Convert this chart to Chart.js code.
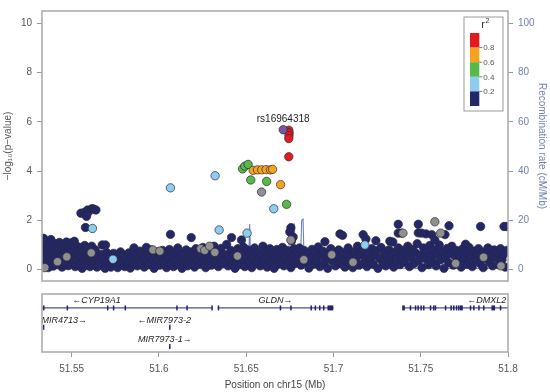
<!DOCTYPE html>
<html lang="en">
<head>
<meta charset="UTF-8">
<title>Regional association plot chr15</title>
<script src="https://cdn.jsdelivr.net/npm/chart.js"></script>
<style>
  body { margin: 0; background: #fff; }
  #wrap { position: relative; width: 550px; height: 392px; }
  #assoc { position: absolute; left: 0; top: 0; }
  #genes { position: absolute; left: 0; top: 290px; }
</style>
</head>
<body>
<div id="wrap">
  <canvas id="assoc" width="550" height="292"></canvas>
  <canvas id="genes" width="550" height="102"></canvas>
</div>
<script>
  // axis ranges and ticks
  const xMin = 51.533, xMax = 51.8;
  const xTicks = [51.55, 51.6, 51.65, 51.7, 51.75, 51.8];
  const pTicks = [0, 2, 4, 6, 8, 10];
  const recTicks = [0, 20, 40, 60, 80, 100];

  // SNPs: [position Mb, -log10 p]
  const leadName = 'rs16964318';
  const leadSnp = [[51.6712, 5.68]];
  const redSnps = [[51.6744, 5.66], [51.6746, 5.55], [51.6745, 5.44], [51.6744, 5.32], [51.6744, 4.58]];
  const orangeSnps = [[51.6540, 4.03], [51.6565, 4.05], [51.6589, 4.05], [51.6614, 4.06], [51.6639, 4.05], [51.6651, 4.07], [51.6697, 3.45]];
  const greenSnps = [[51.6479, 4.09], [51.6492, 4.20], [51.6511, 4.27], [51.6526, 3.64], [51.6617, 3.58], [51.6731, 2.65]];
  const blueSnps = [[51.5619, 1.67], [51.5737, 0.42], [51.6066, 3.32], [51.6322, 3.81], [51.6345, 1.61], [51.6505, 1.48], [51.6658, 2.47], [51.7180, 1.00]];
  const graySnps = [[51.5346, 0.08], [51.5419, 0.32], [51.5472, 0.52], [51.5612, 0.68], [51.5966, 0.80], [51.6005, 0.75],
    [51.6240, 0.85], [51.6262, 0.78], [51.6290, 0.95], [51.6320, 0.70], [51.6450, 0.55], [51.6588, 3.15], [51.6756, 1.20],
    [51.6830, 0.40], [51.6990, 0.60], [51.7112, 0.30], [51.7398, 1.48], [51.7581, 1.94], [51.7614, 1.48], [51.7700, 0.25],
    [51.7860, 0.50], [51.7960, 0.15]];
  const navySnps = [
    [51.5333,0.62],[51.5338,0.18],[51.5342,0.88],[51.5347,0.41],[51.5352,1.02],[51.5357,0.27],[51.5361,0.74],[51.5366,0.08],[51.5371,0.95],[51.5376,0.52],
    [51.5381,1.22],[51.5385,0.33],[51.5390,0.80],[51.5395,0.14],[51.5400,0.66],[51.5405,1.05],[51.5410,0.44],[51.5415,0.90],[51.5420,0.22],[51.5425,0.71],
    [51.5430,1.10],[51.5435,0.38],[51.5440,0.84],[51.5445,0.10],[51.5450,0.58],[51.5455,0.98],[51.5460,0.30],[51.5465,0.76],[51.5470,1.12],[51.5475,0.47],
    [51.5480,0.16],[51.5485,0.92],[51.5490,0.63],[51.5495,1.08],[51.5500,0.25],[51.5505,0.79],[51.5510,0.42],[51.5515,1.15],[51.5520,0.12],[51.5525,0.68],
    [51.5530,0.95],[51.5535,0.35],[51.5540,0.82],[51.5545,0.20],[51.5550,0.55],[51.5555,0.90],[51.5560,0.05],[51.5565,0.72],[51.5570,0.40],[51.5575,0.98],
    [51.5580,0.18],[51.5585,0.62],[51.5590,0.85],[51.5595,0.30],[51.5600,0.70],[51.5605,0.12],[51.5610,0.52],[51.5615,0.95],[51.5620,0.36],[51.5625,0.66],
    [51.5630,0.22],[51.5635,0.80],[51.5640,0.48],[51.5645,0.10],[51.5650,0.58],
    [51.5660,0.35],[51.5668,0.62],[51.5676,0.15],[51.5684,0.48],[51.5692,0.05],[51.5700,0.70],[51.5708,0.28],[51.5716,0.55],[51.5724,0.10],[51.5732,0.42],
    [51.5740,0.66],[51.5748,0.20],[51.5756,0.50],[51.5764,0.08],[51.5772,0.38],[51.5780,0.72],[51.5788,0.25],[51.5796,0.58],[51.5804,0.12],[51.5812,0.45],
    [51.5820,0.30],[51.5828,0.68],[51.5836,0.06],[51.5844,0.52],[51.5852,0.22],[51.5860,0.62],[51.5868,0.35],[51.5876,0.15],[51.5884,0.48],[51.5892,0.75],
    [51.5900,0.28],[51.5908,0.55],[51.5916,0.10],[51.5924,0.42],[51.5932,0.66],[51.5940,0.20],[51.5948,0.50],[51.5956,0.80],[51.5964,0.32],[51.5972,0.05],
    [51.5980,0.60],[51.5988,0.38],[51.5996,0.72],
    [51.6004,0.18],[51.6012,0.50],[51.6020,0.78],[51.6028,0.30],[51.6036,0.62],[51.6044,0.08],[51.6052,0.45],[51.6060,0.82],[51.6068,0.25],[51.6076,0.58],
    [51.6084,0.12],[51.6092,0.70],[51.6100,0.38],[51.6108,0.88],[51.6116,0.20],[51.6124,0.55],[51.6132,0.05],[51.6140,0.66],[51.6148,0.32],[51.6156,0.80],
    [51.6164,0.15],[51.6172,0.48],[51.6180,0.72],[51.6188,0.28],[51.6196,0.60],[51.6204,0.10],[51.6212,0.85],[51.6220,0.40],[51.6228,0.65],[51.6236,0.22],
    [51.6244,0.52],[51.6252,0.90],[51.6260,0.35],[51.6268,0.08],[51.6276,0.70],[51.6284,0.45],[51.6292,0.82],[51.6300,0.18],[51.6308,0.58],[51.6316,0.95],
    [51.6324,0.30],[51.6332,0.68],[51.6340,0.12],[51.6348,0.50],[51.6356,0.86],[51.6364,0.25],[51.6372,0.62],[51.6380,0.40],[51.6388,1.02],[51.6396,0.15],
    [51.6404,0.55],[51.6412,0.78],[51.6420,0.28],[51.6428,0.62],[51.6436,0.05],[51.6444,0.45],[51.6452,0.85],[51.6460,0.20],[51.6468,0.68],[51.6476,0.38],
    [51.6484,0.92],[51.6492,0.12],[51.6500,0.58],[51.6508,0.80],[51.6516,0.30],[51.6524,0.65],[51.6532,0.08],[51.6540,0.48],[51.6548,0.88],[51.6556,0.25],
    [51.6564,0.70],[51.6572,0.42],[51.6580,0.15],[51.6588,0.62],[51.6596,0.95],[51.6604,0.35],[51.6612,0.75],[51.6620,0.10],[51.6628,0.52],[51.6636,0.85],
    [51.6644,0.28],[51.6652,0.60],[51.6660,0.05],[51.6668,0.45],[51.6676,0.82],[51.6684,0.22],[51.6692,0.68],[51.6700,0.38],[51.6708,0.90],[51.6716,0.15],
    [51.6724,0.55],[51.6732,0.78],[51.6740,0.32],[51.6748,0.62],[51.6756,0.08],[51.6764,0.48],[51.6772,0.85],[51.6780,0.25],[51.6788,0.70],[51.6796,0.40],
    [51.6805,0.88],[51.6814,0.18],[51.6823,0.55],[51.6832,0.78],[51.6841,0.30],[51.6850,0.62],[51.6859,0.06],[51.6868,0.45],[51.6877,0.82],[51.6886,0.22],
    [51.6895,0.68],[51.6904,0.38],[51.6913,0.92],[51.6922,0.12],[51.6931,0.58],[51.6940,0.75],[51.6949,0.28],[51.6958,0.50],[51.6967,0.05],[51.6976,0.65],
    [51.6985,0.85],[51.6994,0.35],[51.7003,0.60],[51.7012,0.15],[51.7021,0.48],[51.7030,0.80],[51.7039,0.25],[51.7048,0.70],[51.7057,0.42],[51.7066,0.10],
    [51.7075,0.62],[51.7084,0.88],[51.7093,0.32],[51.7102,0.55],[51.7111,0.08],[51.7120,0.72],[51.7129,0.40],[51.7138,0.95],[51.7147,0.18],[51.7156,0.60],
    [51.7165,0.82],[51.7174,0.28],[51.7183,0.50],[51.7192,0.12],[51.7201,0.68],[51.7210,0.38],[51.7219,0.85],[51.7228,0.22],[51.7237,0.58],[51.7246,0.76],
    [51.7255,0.05],[51.7264,0.45],[51.7273,0.90],[51.7282,0.30],[51.7291,0.65],[51.7300,0.15],[51.7309,0.52],[51.7318,0.80],[51.7327,0.35],[51.7336,0.62],
    [51.7345,0.10],[51.7354,0.72],[51.7363,0.42],[51.7372,0.88],[51.7381,0.20],[51.7390,0.56],
    [51.7399,0.78],[51.7408,0.30],[51.7417,0.62],[51.7426,0.95],[51.7435,0.12],[51.7444,0.48],[51.7453,0.82],[51.7462,0.25],[51.7471,0.68],[51.7480,1.05],
    [51.7489,0.38],[51.7498,0.58],[51.7507,0.08],[51.7516,0.88],[51.7525,0.45],[51.7534,0.70],[51.7543,0.20],[51.7552,0.98],[51.7561,0.55],[51.7570,0.32],
    [51.7579,0.80],[51.7588,0.15],[51.7597,0.62],[51.7606,1.00],[51.7615,0.40],[51.7624,0.72],[51.7633,0.05],[51.7642,0.50],[51.7651,0.86],[51.7660,0.28],
    [51.7669,0.65],[51.7678,0.95],[51.7687,0.18],[51.7696,0.55],[51.7705,0.78],[51.7714,0.35],[51.7723,0.60],[51.7732,0.10],[51.7741,0.85],[51.7750,0.42],
    [51.7759,0.68],[51.7768,0.22],[51.7777,0.90],[51.7786,0.50],[51.7795,0.12],[51.7804,0.75],[51.7813,0.38],[51.7822,0.62],[51.7831,0.85],[51.7840,0.25],
    [51.7849,0.55],[51.7858,0.08],[51.7867,0.72],[51.7876,0.45],[51.7885,0.88],[51.7894,0.30],[51.7903,0.60],[51.7912,0.15],[51.7921,0.80],[51.7930,0.48],
    [51.7939,0.70],[51.7948,0.20],[51.7957,0.85],[51.7966,0.40],[51.7975,0.62],[51.7984,0.10],[51.7993,0.78],
    // points standing above the band
    [51.5339,1.27],[51.5553,2.29],[51.5572,2.32],[51.5585,2.16],[51.5591,2.42],[51.5594,2.32],[51.5616,2.47],[51.5625,2.46],[51.5639,2.42],
    [51.5579,1.71],[51.5675,1.00],[51.5694,1.00],[51.5857,0.88],[51.5928,0.90],[51.6066,1.43],[51.6185,1.30],[51.6416,1.30],[51.6473,1.20],
    [51.6756,1.70],[51.6750,1.53],[51.6769,1.32],[51.6760,1.18],[51.6951,1.13],[51.7037,1.45],[51.7052,1.39],[51.7170,1.42],[51.7186,1.24],[51.7243,1.17],
    [51.7323,1.15],[51.7340,1.12],[51.7371,1.84],[51.7371,1.48],[51.7390,1.48],[51.7486,1.84],[51.7486,1.49],[51.7505,1.48],[51.7530,1.45],
    [51.7563,1.42],[51.7581,1.20],[51.7639,1.42],[51.7662,1.78],[51.7757,1.03],[51.7843,1.75],[51.7977,1.75],[51.7991,1.75]
  ];

  // recombination rate (cM/Mb)
  const recPos  = [51.533, 51.58, 51.62, 51.650, 51.6515, 51.652, 51.6525, 51.653, 51.6742, 51.6749, 51.6776, 51.6782, 51.681, 51.6818, 51.6826, 51.6832, 51.685, 51.75, 51.8];
  const recRate = [0.4,    0.5,   0.6,   0.8,    6,       18.5,   5,       0.8,    1,       18.5,    18.5,    1,       1.5,    20,      20.5,    2,       0.8,    0.5,   0.5];

  // LD legend
  const ldColors = ['#e41a1c', '#f7a21b', '#58b848', '#8ccdf0', '#232668'];
  const ldBreaks = ['0.8', '0.6', '0.4', '0.2'];
  const grayColor = '#909090';
  const leadColor = '#7a55a0';

  // genes (Mb); strand 1 = forward, -1 = reverse
  const genes = [
    { name: 'CYP19A1', start: 51.500, end: 51.6308, strand: -1, row: 0, labelAt: 51.5642,
      exons: [[51.5336,51.5342],[51.5471,51.5475],[51.5702,51.5705],[51.5736,51.5739],[51.5803,51.5806],[51.6099,51.6102],[51.6157,51.6160],[51.6300,51.6304]] },
    { name: 'GLDN', start: 51.6337, end: 51.7000, strand: 1, row: 0, labelAt: 51.6668,
      exons: [[51.6337,51.6341],[51.6692,51.6695],[51.6752,51.6756],[51.6868,51.6871],[51.6892,51.6895],[51.6917,51.6920],[51.6940,51.6943],[51.6966,51.6999]] },
    { name: 'DMXL2', start: 51.7394, end: 51.920, strand: -1, row: 0, labelAt: 51.7878,
      exons: [[51.7394,51.7409],[51.7437,51.7440],[51.7466,51.7469],[51.7481,51.7484],[51.7498,51.7501],[51.7513,51.7516],[51.7552,51.7555],
              [51.7570,51.7576],[51.7580,51.7583],[51.7638,51.7641],[51.7670,51.7673],[51.7685,51.7688],[51.7701,51.7704],[51.7714,51.7717],
              [51.7724,51.7741],[51.7781,51.7784],[51.7800,51.7803],[51.7829,51.7832],[51.7857,51.7860],[51.7905,51.7926],[51.7953,51.7956]] },
    { name: 'MIR4713', start: 51.5335, end: 51.5337, strand: 1, row: 1, labelAt: 51.5457, exons: [[51.5335,51.5337]] },
    { name: 'MIR7973-2', start: 51.6058, end: 51.6060, strand: -1, row: 1, labelAt: 51.6030, exons: [[51.6058,51.6060]] },
    { name: 'MIR7973-1', start: 51.6058, end: 51.6060, strand: 1, row: 2, labelAt: 51.6034, exons: [[51.6058,51.6060]] }
  ];

  Chart.defaults.font.family = "'Liberation Sans', Arial, sans-serif";
  Chart.defaults.font.size = 10;
  Chart.defaults.color = '#555';

  const toXY = arr => arr.map(([x, y]) => ({ x: x, y: y }));
  const setTicks = list => scale => { scale.ticks = list.map(v => ({ value: v })); };
  const geneColor = '#1f2370';

  function snpSet(label, arr, color) {
    return {
      type: 'scatter', label: label, data: toXY(arr), yAxisID: 'y',
      backgroundColor: color, borderColor: '#2a2a3a', borderWidth: 0.7, pointRadius: 4.2
    };
  }

  const framePlugin = {
    id: 'frame',
    afterDraw(chart) {
      const a = chart.chartArea, c = chart.ctx;
      c.save();
      c.strokeStyle = '#a8a8a8';
      c.lineWidth = 1.5;
      c.strokeRect(a.left, a.top, a.right - a.left, a.bottom - a.top);
      c.restore();
    }
  };

  const annotPlugin = {
    id: 'annot',
    afterDraw(chart) {
      const c = chart.ctx, a = chart.chartArea;
      // lead SNP name
      const p = chart.getDatasetMeta(0).data[0];
      c.save();
      c.font = "10px 'Liberation Sans', Arial";
      c.fillStyle = '#222';
      c.textAlign = 'center';
      c.textBaseline = 'middle';
      c.fillText(leadName, p.x, p.y - 10);

      // r2 legend
      const bx = a.right - 44, by = a.top + 6, bw = 39, bh = 94;
      c.fillStyle = '#fff';
      c.fillRect(bx, by, bw, bh);
      c.strokeStyle = '#999';
      c.lineWidth = 1;
      c.strokeRect(bx, by, bw, bh);
      c.fillStyle = '#333';
      c.font = "11px 'Liberation Sans', Arial";
      c.fillText('r', bx + 19, by + 8);
      c.font = "7px 'Liberation Sans', Arial";
      c.fillText('2', bx + 23.5, by + 4.5);
      const sx = bx + 6, sw = 9.3, sy = by + 16, sh = 14.6;
      ldColors.forEach((col, i) => {
        c.fillStyle = col;
        c.fillRect(sx, sy + i * sh, sw, sh);
      });
      c.font = "8px 'Liberation Sans', Arial";
      c.textAlign = 'left';
      c.fillStyle = '#555';
      c.strokeStyle = '#777';
      ldBreaks.forEach((t, i) => {
        const y = sy + (i + 1) * sh;
        c.beginPath();
        c.moveTo(sx + sw, y);
        c.lineTo(sx + sw + 3, y);
        c.stroke();
        c.fillText(t, sx + sw + 4, y + 0.5);
      });
      c.restore();
    }
  };

  new Chart(document.getElementById('assoc'), {
    data: {
      datasets: [
        snpSet('lead', leadSnp, leadColor),
        snpSet('r2 > 0.8', redSnps, ldColors[0]),
        snpSet('0.6-0.8', orangeSnps, ldColors[1]),
        snpSet('0.4-0.6', greenSnps, ldColors[2]),
        snpSet('0.2-0.4', blueSnps, ldColors[3]),
        snpSet('no r2', graySnps, grayColor),
        snpSet('< 0.2', navySnps, ldColors[4]),
        {
          type: 'line', label: 'recombination', yAxisID: 'yr',
          data: recPos.map((x, i) => ({ x: x, y: recRate[i] })),
          borderColor: '#6f82c8', borderWidth: 1.1, pointRadius: 0, tension: 0
        }
      ]
    },
    options: {
      responsive: false,
      animation: false,
      events: [],
      layout: { padding: { top: 4, bottom: 4, left: 0, right: 0 } },
      plugins: { legend: { display: false }, tooltip: { enabled: false } },
      scales: {
        x: { type: 'linear', min: xMin, max: xMax, display: false },
        y: {
          position: 'left', min: -0.463, max: 10.5,
          afterBuildTicks: setTicks(pTicks),
          afterFit: s => { s.width = 42; },
          grid: { drawOnChartArea: false, tickLength: 5, color: '#999' },
          border: { display: false },
          ticks: { padding: 5, color: '#555' },
          title: { display: true, text: '\u2212log\u2081\u2080(p\u2212value)', color: '#555', padding: { top: 2, bottom: 0 } }
        },
        yr: {
          position: 'right', min: -4.63, max: 105,
          afterBuildTicks: setTicks(recTicks),
          afterFit: s => { s.width = 42; },
          grid: { drawOnChartArea: false, tickLength: 5, color: '#8a96c8' },
          border: { display: false },
          ticks: { padding: 5, color: '#7080b8' },
          title: { display: true, text: 'Recombination rate (cM/Mb)', color: '#7080b8', padding: { top: 2, bottom: 0 } }
        }
      }
    },
    plugins: [framePlugin, annotPlugin]
  });

  const genePlugin = {
    id: 'genetrack',
    afterDatasetsDraw(chart) {
      const c = chart.ctx, a = chart.chartArea;
      const xs = chart.scales.x, ys = chart.scales.y;
      c.save();
      c.beginPath();
      c.rect(a.left, a.top, a.right - a.left, a.bottom - a.top);
      c.clip();
      c.fillStyle = geneColor;
      genes.forEach(g => {
        const y = ys.getPixelForValue(g.row);
        g.exons.forEach(([s, e]) => {
          const x0 = xs.getPixelForValue(s), x1 = xs.getPixelForValue(e);
          c.fillRect(x0, y - 2.5, Math.max(1.5, x1 - x0), 5);
        });
      });
      c.fillStyle = '#222';
      c.font = "italic 9px 'Liberation Sans', Arial";
      c.textAlign = 'center';
      c.textBaseline = 'middle';
      genes.forEach(g => {
        const y = ys.getPixelForValue(g.row) - 7;
        const txt = g.strand > 0 ? g.name + '\u2192' : '\u2190' + g.name;
        c.fillText(txt, xs.getPixelForValue(g.labelAt), y);
      });
      c.restore();
    }
  };

  new Chart(document.getElementById('genes'), {
    type: 'line',
    data: {
      datasets: genes.map(g => ({
        label: g.name,
        data: [{ x: g.start, y: g.row }, { x: g.end, y: g.row }],
        borderColor: geneColor, borderWidth: 1, pointRadius: 0
      }))
    },
    options: {
      responsive: false,
      animation: false,
      events: [],
      layout: { padding: { top: 4, bottom: 0, left: 42, right: 42 } },
      plugins: { legend: { display: false }, tooltip: { enabled: false } },
      scales: {
        x: {
          type: 'linear', min: xMin, max: xMax,
          afterBuildTicks: setTicks(xTicks),
          afterFit: s => { s.height = 40; },
          grid: { drawOnChartArea: false, tickLength: 5, color: '#999' },
          border: { display: false },
          ticks: { padding: 6, maxRotation: 0, autoSkip: false, color: '#555', callback: v => String(v) },
          title: { display: true, text: 'Position on chr15 (Mb)', color: '#444', padding: { top: 0, bottom: 1 } }
        },
        y: { display: false, reverse: true, min: -0.72, max: 2.28 }
      }
    },
    plugins: [framePlugin, genePlugin]
  });
</script>
</body>
</html>
